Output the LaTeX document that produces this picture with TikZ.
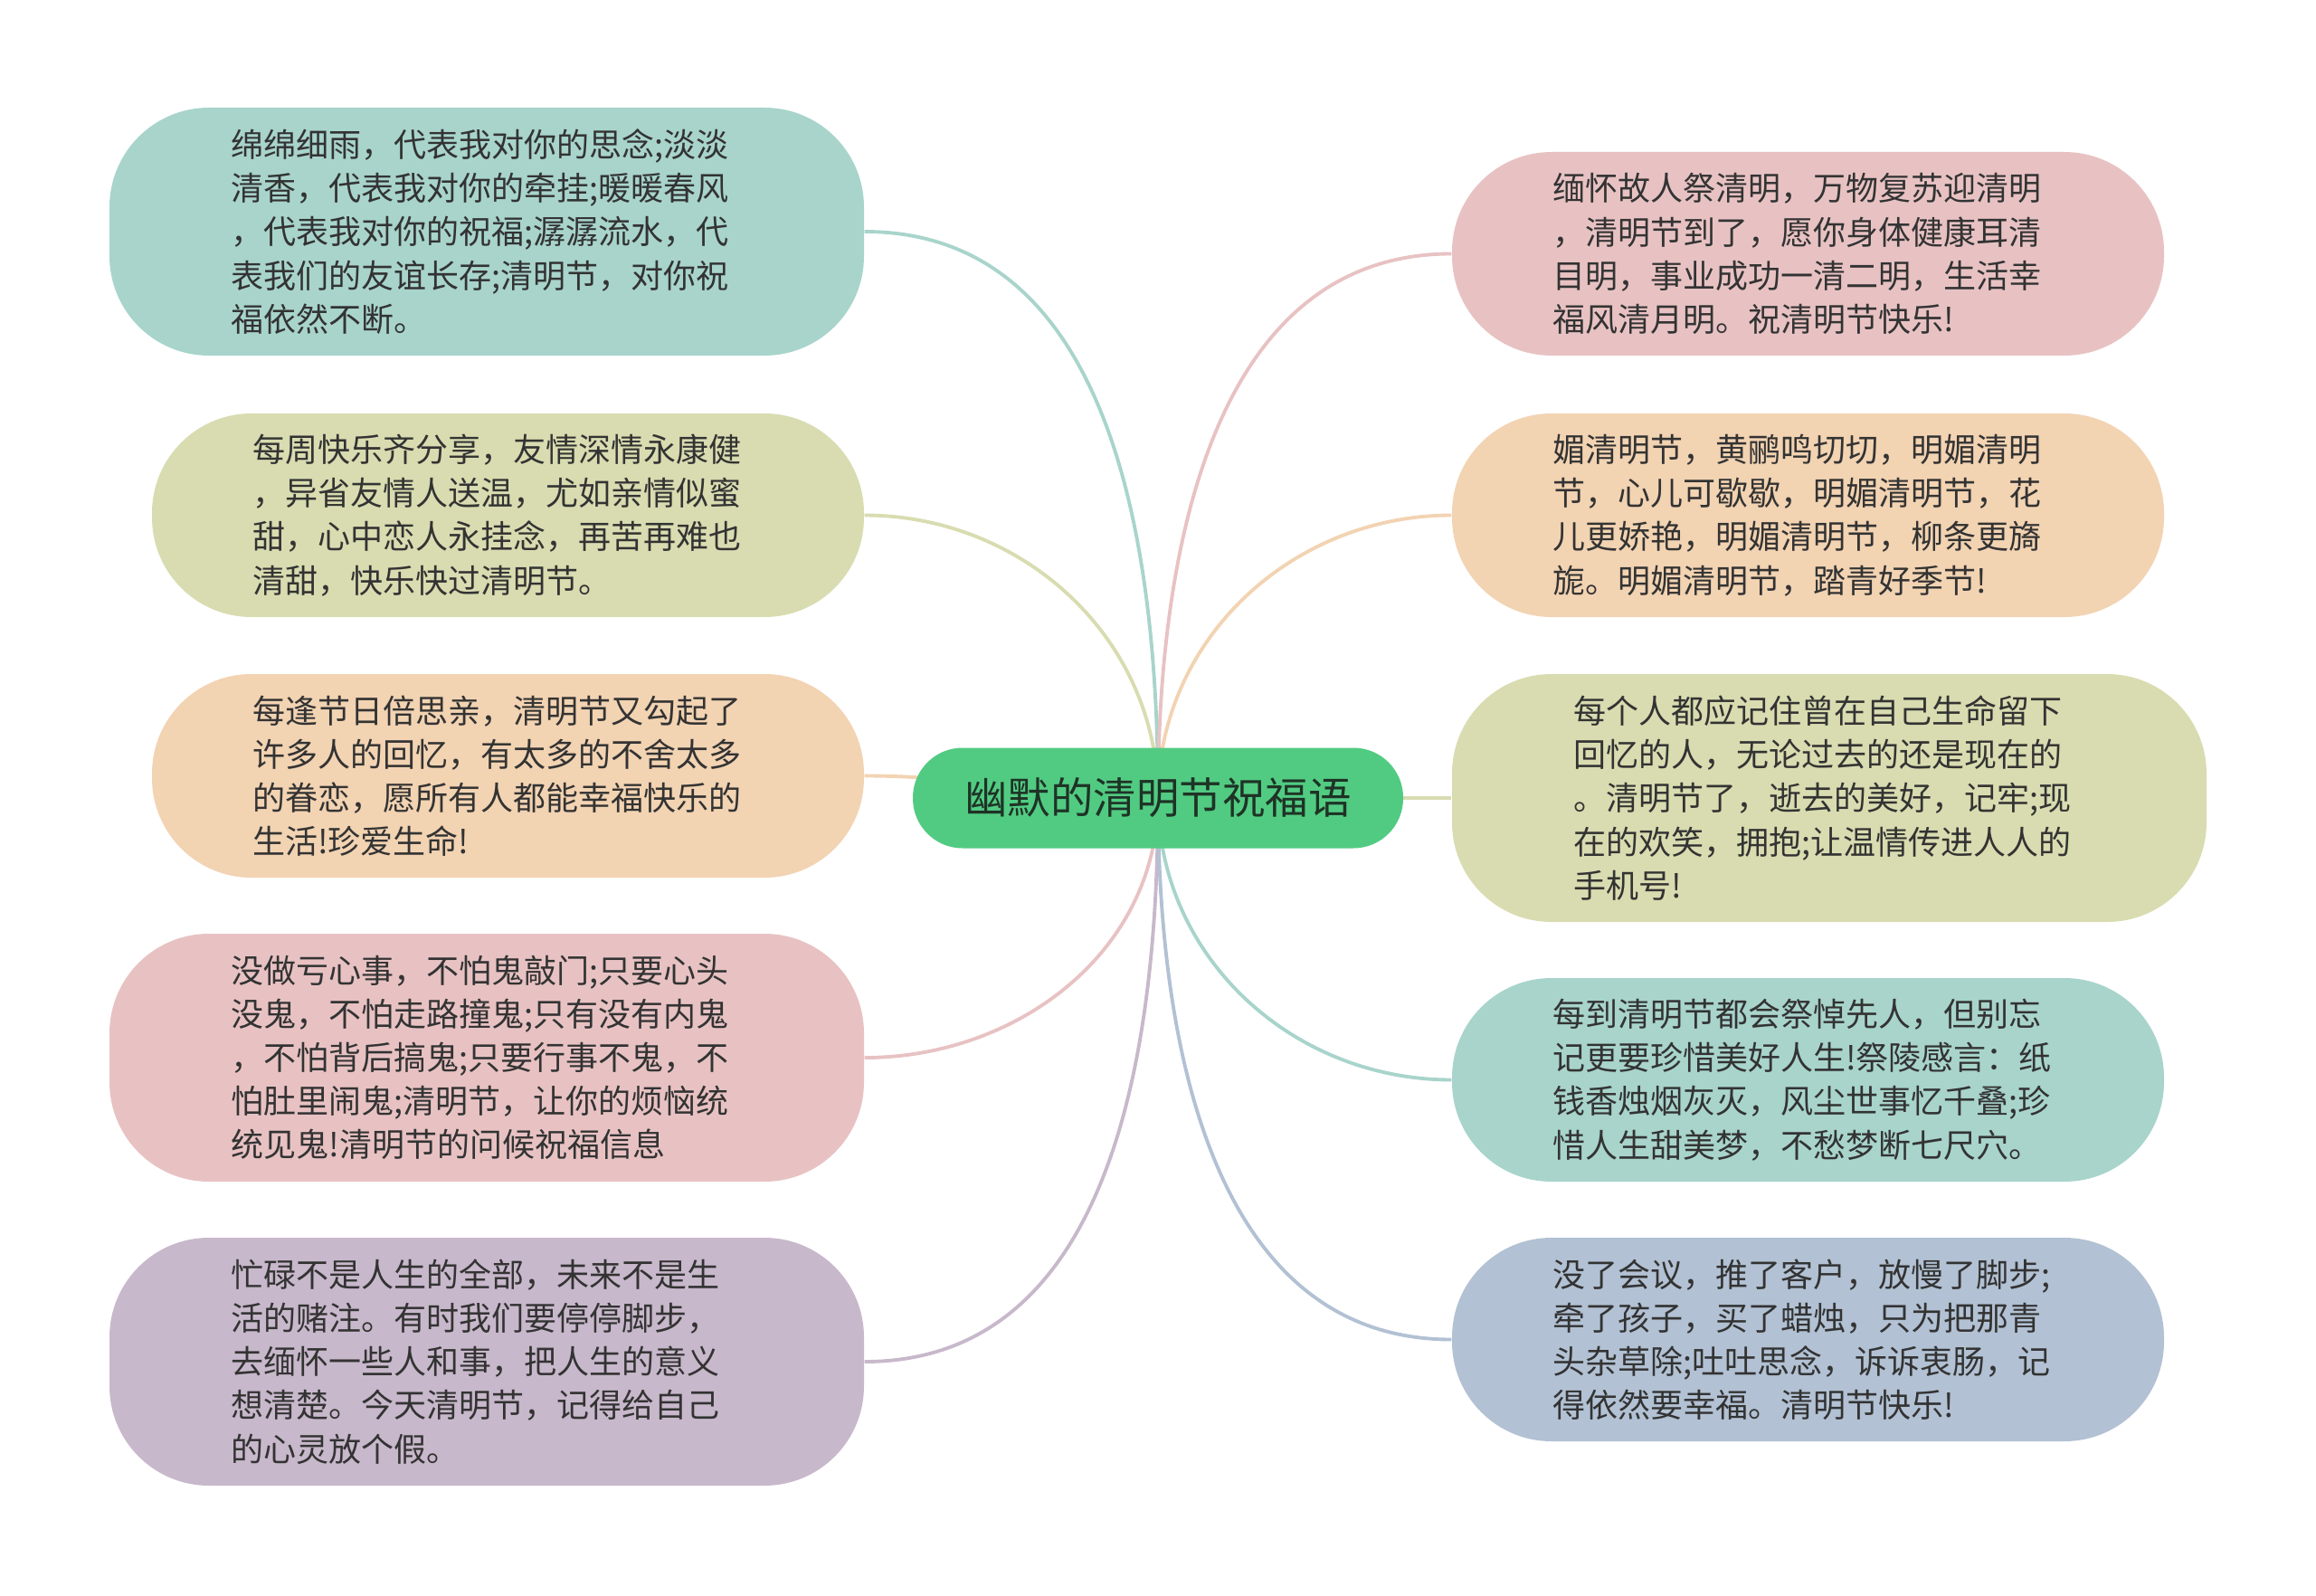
\documentclass[tikz,border=0pt]{standalone}
\usepackage{fontspec}
\usepackage{xcolor}
\usepackage{tikz}
\usetikzlibrary{positioning,backgrounds}
\newfontfamily\cjk{Noto Sans CJK SC}
\definecolor{tealc}{HTML}{A8D4CB}
\definecolor{olivec}{HTML}{D8DCB0}
\definecolor{peachc}{HTML}{F2D3B2}
\definecolor{pinkc}{HTML}{E8C2C3}
\definecolor{lilacc}{HTML}{C8B8CB}
\definecolor{bluec}{HTML}{B2C1D3}
\definecolor{rootc}{HTML}{52CB82}
\definecolor{textc}{HTML}{333333}
\definecolor{roottextc}{HTML}{1E3326}

\begin{document}
\begin{tikzpicture}[
    leaf/.style={rounded corners=1.1cm, text width=5.65cm, align=left, inner sep=0pt,
        font=\cjk\fontsize{10.25pt}{13.7pt}\selectfont, text=textc},
    tall/.style={leaf, minimum width=8.34cm, minimum height=2.74cm},
    short/.style={leaf, minimum width=7.87cm, minimum height=2.25cm},
    root/.style={rounded corners=0.55cm, fill=rootc, minimum width=5.42cm, minimum height=1.11cm,
        font=\cjk\fontsize{13.5pt}{16pt}\selectfont, text=roottextc},
    link/.style={line width=1.1pt}
]
\useasboundingbox (0,0) rectangle (25.6,-17.64);

\node[root] (root) at (12.8,-8.82) {幽默的清明节祝福语};

\node[tall, fill=tealc] (l1) at (5.38,-2.56) {绵绵细雨，代表我对你的思念;淡淡\\清香，代表我对你的牵挂;暖暖春风\\，代表我对你的祝福;潺潺流水，代\\表我们的友谊长存;清明节，对你祝\\福依然不断。};
\node[short, fill=olivec] (l2) at (5.615,-5.695) {每周快乐齐分享，友情深情永康健\\，异省友情人送温，尤如亲情似蜜\\甜，心中恋人永挂念，再苦再难也\\清甜，快乐快过清明节。};
\node[short, fill=peachc] (l3) at (5.615,-8.575) {每逢节日倍思亲，清明节又勾起了\\许多人的回忆，有太多的不舍太多\\的眷恋，愿所有人都能幸福快乐的\\生活!珍爱生命!};
\node[tall, fill=pinkc] (l4) at (5.38,-11.69) {没做亏心事，不怕鬼敲门;只要心头\\没鬼，不怕走路撞鬼;只有没有内鬼\\，不怕背后搞鬼;只要行事不鬼，不\\怕肚里闹鬼;清明节，让你的烦恼统\\统见鬼!清明节的问候祝福信息};
\node[tall, fill=lilacc] (l5) at (5.38,-15.05) {忙碌不是人生的全部，未来不是生\\活的赌注。有时我们要停停脚步，\\去缅怀一些人和事，把人生的意义\\想清楚。今天清明节，记得给自己\\的心灵放个假。};

\node[short, fill=pinkc] (r1) at (19.985,-2.805) {缅怀故人祭清明，万物复苏迎清明\\，清明节到了，愿你身体健康耳清\\目明，事业成功一清二明，生活幸\\福风清月明。祝清明节快乐!};
\node[short, fill=peachc] (r2) at (19.985,-5.695) {媚清明节，黄鹂鸣切切，明媚清明\\节，心儿可歇歇，明媚清明节，花\\儿更娇艳，明媚清明节，柳条更旖\\旎。明媚清明节，踏青好季节!};
\node[tall, fill=olivec] (r3) at (20.22,-8.82) {每个人都应记住曾在自己生命留下\\回忆的人，无论过去的还是现在的\\。清明节了，逝去的美好，记牢;现\\在的欢笑，拥抱;让温情传进人人的\\手机号!};
\node[short, fill=tealc] (r4) at (19.985,-11.935) {每到清明节都会祭悼先人，但别忘\\记更要珍惜美好人生!祭陵感言：纸\\钱香烛烟灰灭，风尘世事忆千叠;珍\\惜人生甜美梦，不愁梦断七尺穴。};
\node[short, fill=bluec] (r5) at (19.985,-14.805) {没了会议，推了客户，放慢了脚步;\\牵了孩子，买了蜡烛，只为把那青\\头杂草除;吐吐思念，诉诉衷肠，记\\得依然要幸福。清明节快乐!};

\begin{scope}[on background layer]
\draw[link, tealc] (root.center) to[out=90,in=0] (l1.east);
\draw[link, olivec] (root.center) to[out=90,in=0] (l2.east);
\draw[link, peachc] (root.center) to[out=180,in=0] (l3.east);
\draw[link, pinkc] (root.center) to[out=-90,in=0] (l4.east);
\draw[link, lilacc] (root.center) to[out=-90,in=0] (l5.east);
\draw[link, pinkc] (root.center) to[out=90,in=180] (r1.west);
\draw[link, peachc] (root.center) to[out=90,in=180] (r2.west);
\draw[link, olivec] (root.center) to[out=0,in=180] (r3.west);
\draw[link, tealc] (root.center) to[out=-90,in=180] (r4.west);
\draw[link, bluec] (root.center) to[out=-90,in=180] (r5.west);
\end{scope}
\end{tikzpicture}
\end{document}
